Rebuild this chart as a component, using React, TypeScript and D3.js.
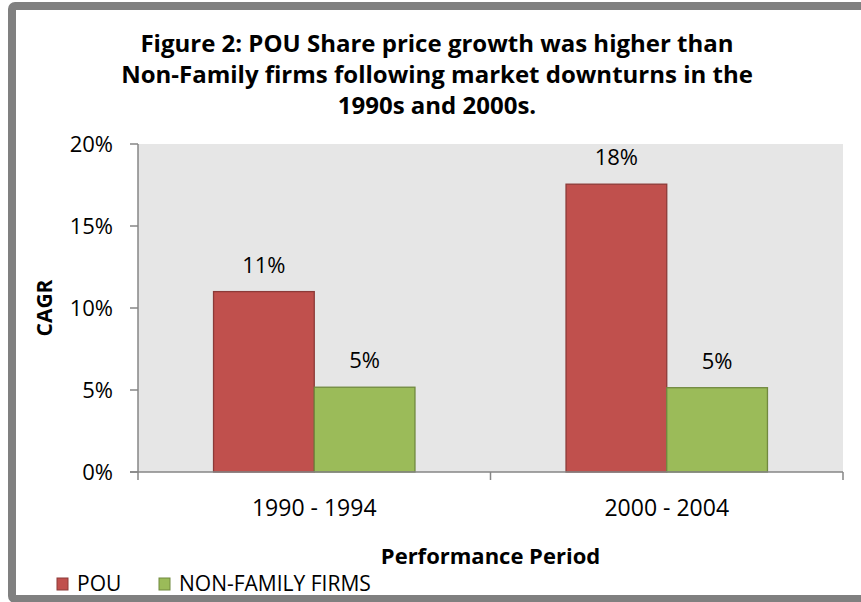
import React from "react";
import * as d3 from "d3";

const categories = ["1990 - 1994", "2000 - 2004"];
const seriesNames = ["POU", "NON-FAMILY FIRMS"];
const pouValues = [0.11, 0.1755];
const nonFamilyValues = [0.0517, 0.0514];
const yTicks = [0, 0.05, 0.1, 0.15, 0.2];
const titleLines = [
  "Figure 2: POU Share price growth was higher than",
  "Non-Family firms following market downturns in the",
  "1990s and 2000s.",
];

const W = 861;
const H = 602;
const FONT = "'Open Sans', 'DejaVu Sans', sans-serif";
const fills = ["#C0504D", "#9BBB59"];
const strokes = ["#8C3A38", "#71893F"];

export default function App() {
  const plot = { left: 138, right: 843, top: 144, bottom: 472 };
  const x0 = d3
    .scaleBand<string>()
    .domain(categories)
    .range([plot.left, plot.right])
    .paddingInner(0)
    .paddingOuter(0);
  const barW = x0.bandwidth() / 3.5;
  const x1 = d3
    .scaleBand<string>()
    .domain(seriesNames)
    .range([0, barW * 2]);
  const y = d3.scaleLinear().domain([0, 0.2]).range([plot.bottom, plot.top]);
  const series = [pouValues, nonFamilyValues];
  const fmt = d3.format(".0%");

  return (
    <svg
      width={W}
      height={H}
      style={{ position: "absolute", left: 0, top: 0 }}
      fontFamily={FONT}
    >
      <rect x={0} y={0} width={W} height={H} fill="#ffffff" />
      <rect
        x={12}
        y={6}
        width={W + 20}
        height={593}
        fill="#ffffff"
        stroke="#808080"
        strokeWidth={8}
        rx={3}
      />
      {titleLines.map((t, i) => (
        <text
          key={i}
          x={437}
          y={52 + i * 31}
          textAnchor="middle"
          fontWeight="bold"
          fontSize={24}
          fill="#000"
        >
          {t}
        </text>
      ))}
      <rect
        x={plot.left}
        y={plot.top}
        width={plot.right - plot.left}
        height={plot.bottom - plot.top}
        fill="#E6E6E6"
      />
      {categories.map((c, ci) =>
        series.map((vals, si) => {
          const bx = (x0(c) as number) + barW * 0.75 + (x1(seriesNames[si]) as number);
          const by = y(vals[ci]);
          return (
            <g key={`${ci}-${si}`}>
              <rect
                x={bx}
                y={by}
                width={x1.bandwidth()}
                height={plot.bottom - by}
                fill={fills[si]}
                stroke={strokes[si]}
                strokeWidth={1.3}
              />
              <text
                x={bx + x1.bandwidth() / 2}
                y={by - 19}
                textAnchor="middle"
                fontSize={22}
                fill="#000"
              >
                {fmt(vals[ci])}
              </text>
            </g>
          );
        })
      )}
      {/* y axis */}
      <line
        x1={plot.left}
        x2={plot.left}
        y1={plot.top}
        y2={plot.bottom}
        stroke="#868686"
        strokeWidth={1.5}
      />
      {yTicks.map((t) => (
        <g key={t}>
          <line
            x1={plot.left - 8}
            x2={plot.left}
            y1={y(t)}
            y2={y(t)}
            stroke="#868686"
            strokeWidth={1.5}
          />
          <text
            x={113}
            y={y(t)}
            dy="0.35em"
            textAnchor="end"
            fontSize={22}
            fill="#000"
          >
            {fmt(t)}
          </text>
        </g>
      ))}
      {/* x axis */}
      <line
        x1={plot.left - 8}
        x2={plot.right}
        y1={plot.bottom}
        y2={plot.bottom}
        stroke="#868686"
        strokeWidth={1.5}
      />
      {[...categories.map((c) => x0(c) as number), plot.right].map((tx, i) => (
        <line
          key={i}
          x1={tx}
          x2={tx}
          y1={plot.bottom}
          y2={plot.bottom + 8}
          stroke="#868686"
          strokeWidth={1.5}
        />
      ))}
      {categories.map((c) => (
        <text
          key={c}
          x={(x0(c) as number) + x0.bandwidth() / 2}
          y={516}
          textAnchor="middle"
          fontSize={23}
          fill="#000"
        >
          {c}
        </text>
      ))}
      <text
        x={(plot.left + plot.right) / 2}
        y={564}
        textAnchor="middle"
        fontWeight="bold"
        fontSize={22}
        fill="#000"
      >
        Performance Period
      </text>
      <text
        transform={`translate(52, ${(plot.top + plot.bottom) / 2}) rotate(-90)`}
        textAnchor="middle"
        fontWeight="bold"
        fontSize={21}
        fill="#000"
      >
        CAGR
      </text>
      {/* legend */}
      {seriesNames.map((s, i) => {
        const lx = [57, 159][i];
        return (
          <g key={s}>
            <rect
              x={lx}
              y={578}
              width={11}
              height={12}
              fill={fills[i]}
              stroke={strokes[i]}
              strokeWidth={1}
            />
            <text x={lx + 20} y={591} fontSize={21} fill="#000">
              {s}
            </text>
          </g>
        );
      })}
    </svg>
  );
}
